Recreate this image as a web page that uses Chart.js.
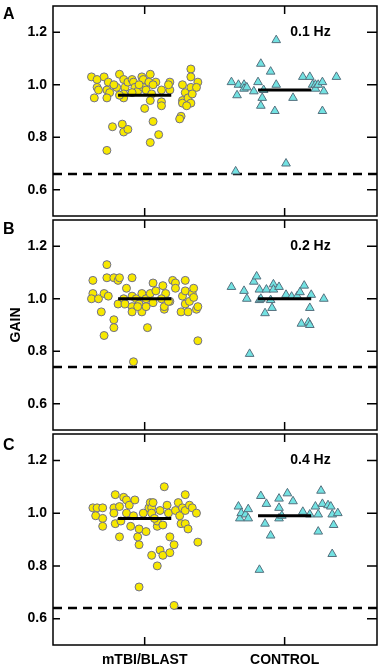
<!DOCTYPE html>
<html>
<head>
<meta charset="utf-8">
<script src="https://cdn.jsdelivr.net/npm/chart.js@4.4.1/dist/chart.umd.min.js"></script>
<style>
  body { margin: 0; background: #fff; }
  canvas { position: absolute; left: 0; }
</style>
</head>
<body>
<canvas id="chartA" width="383" height="222" style="top:0px"></canvas>
<canvas id="chartB" width="383" height="222" style="top:214px"></canvas>
<canvas id="chartC" width="383" height="240" style="top:428px"></canvas>
<script>
// Datos
const groups = ['mTBI/BLAST', 'CONTROL']
const yTicks = [0.6, 0.8, 1.0, 1.2]
const panelLetters = ['A', 'B', 'C']
const freqLabels = ['0.1 Hz', '0.2 Hz', '0.4 Hz']
const thresholds = [0.66, 0.74, 0.64]
const meanBlast = [0.96, 1.00, 0.98]
const meanControl = [0.98, 1.00, 0.99]

// 0.1 Hz
const blastGainA = [1.03,1.02,1.03,1.01,0.99,0.98,0.95,0.98,0.97,0.95,0.99,1.04,1.02,0.99,0.965,0.95,1.01,1.02,1.01,0.99,0.975,1.03,1.02,0.99,0.98,1.04,1.01,0.965,0.94,1.01,0.98,0.935,0.92,0.91,0.86,0.81,0.78,0.84,0.85,0.82,0.83,0.75,1.01,0.98,1.00,0.94,0.88,0.87,0.93,0.97,0.95,1.06,1.03,0.99,0.965,0.93,0.92,1.01,0.99,0.96,1.00,1.00,0.97,1.00,1.00]
const blastJitterA = [-0.38,-0.34,-0.29,-0.26,-0.34,-0.33,-0.36,-0.27,-0.25,-0.27,-0.20,-0.18,-0.15,-0.14,-0.15,-0.15,-0.12,-0.09,-0.08,-0.07,-0.05,-0.02,-0.01,-0.01,0.01,0.04,0.03,0.05,0.04,0.08,0.12,0.12,0.12,0.00,0.06,0.10,0.04,-0.23,-0.16,-0.15,-0.12,-0.27,0.18,0.18,0.27,0.27,0.26,0.25,0.27,0.29,0.31,0.33,0.33,0.33,0.34,0.33,0.30,0.38,0.37,-0.18,-0.22,-0.04,-0.09,0.06,0.17]
const controlGainA = [1.01,1.00,0.96,0.67,1.00,0.985,0.99,0.975,1.01,1.08,0.95,0.92,0.98,1.05,1.00,0.90,1.17,0.70,0.95,1.03,1.03,1.00,1.00,0.985,1.00,1.01,0.975,0.90,1.03]
const controlJitterA = [-0.38,-0.33,-0.34,-0.35,-0.29,-0.29,-0.27,-0.22,-0.19,-0.17,-0.16,-0.17,-0.15,-0.10,-0.06,-0.07,-0.06,0.01,0.06,0.13,0.18,0.20,0.22,0.22,0.24,0.27,0.28,0.27,0.37]

// 0.2 Hz
const blastGainB = [1.07,1.02,1.00,1.00,1.02,0.95,0.86,1.13,1.08,1.01,1.08,1.07,1.08,0.92,0.89,0.98,1.00,1.04,0.98,1.08,1.01,0.97,0.95,0.76,1.00,0.98,1.02,0.95,0.97,0.89,1.00,1.02,1.06,0.985,1.03,1.05,0.96,0.97,1.02,0.99,1.07,1.06,1.04,0.95,1.01,1.07,1.03,0.98,0.95,0.99,1.02,1.04,1.005,0.96,0.97,0.84,1.00,0.99,0.97]
const blastJitterB = [-0.37,-0.37,-0.38,-0.33,-0.29,-0.31,-0.29,-0.27,-0.27,-0.26,-0.22,-0.19,-0.18,-0.22,-0.22,-0.19,-0.15,-0.13,-0.14,-0.09,-0.09,-0.09,-0.09,-0.08,-0.06,-0.04,-0.02,-0.02,0.01,0.02,0.01,0.04,0.06,0.06,0.08,0.13,0.14,0.14,0.15,0.18,0.20,0.22,0.22,0.26,0.27,0.29,0.29,0.29,0.31,0.32,0.34,0.35,0.35,0.37,0.38,0.38,0.12,0.17,-0.05]
const controlGainB = [1.045,1.03,1.00,0.79,1.065,1.085,1.035,0.995,1.00,0.945,1.035,0.995,0.965,1.055,1.035,1.045,1.015,1.008,1.01,1.025,1.05,0.905,0.91,0.90,0.965,1.015,1.00]
const controlJitterB = [-0.38,-0.29,-0.27,-0.25,-0.22,-0.20,-0.18,-0.18,-0.17,-0.14,-0.13,-0.10,-0.09,-0.08,-0.08,-0.04,0.01,0.05,0.09,0.11,0.14,0.12,0.17,0.18,0.18,0.19,0.28]

// 0.4 Hz
const blastGainC = [1.02,1.02,0.99,0.98,0.95,1.02,1.07,1.02,1.00,0.96,0.91,1.025,0.97,1.06,1.05,1.00,1.03,0.95,1.05,0.99,0.91,0.94,0.88,0.72,0.93,1.02,1.04,1.02,1.04,1.00,0.84,0.95,0.97,0.86,0.84,0.80,1.01,0.955,1.10,1.03,1.00,0.91,0.85,0.88,0.65,1.01,1.04,0.99,0.96,1.02,1.07,0.96,0.94,1.01,1.03,1.02,1.00,0.89,1.00,0.98]
const blastJitterC = [-0.37,-0.34,-0.35,-0.30,-0.30,-0.30,-0.21,-0.22,-0.22,-0.21,-0.18,-0.18,-0.17,-0.15,-0.13,-0.13,-0.11,-0.10,-0.07,-0.08,-0.05,-0.04,-0.04,-0.04,0.01,0.03,0.04,0.05,0.06,0.05,0.05,0.09,0.09,0.11,0.13,0.09,0.11,0.13,0.14,0.16,0.17,0.18,0.18,0.21,0.21,0.22,0.24,0.25,0.26,0.27,0.29,0.29,0.31,0.29,0.32,0.34,0.37,0.38,-0.01,0.07]
const controlGainC = [1.025,0.98,1.00,0.995,1.015,0.98,0.785,1.065,0.96,1.035,0.915,1.055,1.02,0.98,0.99,1.075,1.045,1.005,0.995,1.025,0.995,0.93,1.085,1.035,1.03,1.025,0.995,0.955,1.00,0.845]
const controlJitterC = [-0.33,-0.32,-0.31,-0.28,-0.26,-0.26,-0.18,-0.17,-0.14,-0.13,-0.10,-0.04,-0.04,-0.04,-0.02,0.02,0.06,0.13,0.18,0.22,0.24,0.24,0.26,0.27,0.31,0.33,0.34,0.35,0.38,0.34]

const blastGain = [blastGainA, blastGainB, blastGainC]
const blastJitter = [blastJitterA, blastJitterB, blastJitterC]
const controlGain = [controlGainA, controlGainB, controlGainC]
const controlJitter = [controlJitterA, controlJitterB, controlJitterC]

Chart.defaults.font.family = "'Liberation Sans', Arial, sans-serif"
Chart.defaults.font.weight = 'bold'
Chart.defaults.color = '#111'

const X_MIN = 0.345
const X_MAX = 2.66
const MEAN_HALF = 0.19

// marco, marcas internas y textos del panel
const framePlugin = {
  id: 'frame',
  afterDraw(chart, args, opts) {
    const c = chart.ctx
    const a = chart.chartArea
    const xs = chart.scales.x
    const ys = chart.scales.y
    c.save()
    c.strokeStyle = '#000'
    c.lineWidth = 1.5
    c.strokeRect(a.left, a.top, a.right - a.left, a.bottom - a.top)
    c.beginPath()
    yTicks.forEach(v => {
      const py = ys.getPixelForValue(v)
      c.moveTo(a.left, py); c.lineTo(a.left + 7, py)
      c.moveTo(a.right, py); c.lineTo(a.right - 10, py)
    })
    ;[1, 2].forEach(v => {
      const px = xs.getPixelForValue(v)
      c.moveTo(px, a.top); c.lineTo(px, a.top + 8)
      c.moveTo(px, a.bottom); c.lineTo(px, a.bottom - 8)
    })
    c.stroke()
    c.fillStyle = '#000'
    c.font = "bold 16px 'Liberation Sans', Arial, sans-serif"
    c.textBaseline = 'alphabetic'
    c.textAlign = 'left'
    c.fillText(opts.letter, 3, a.top + opts.letterDy)
    c.font = "bold 14px 'Liberation Sans', Arial, sans-serif"
    c.textBaseline = 'middle'
    c.fillText(opts.freq, xs.getPixelForValue(2.04), ys.getPixelForValue(1.2))
    c.restore()
  }
}

function noPad(axis) {
  axis.paddingTop = 0
  axis.paddingBottom = 0
  axis.paddingLeft = 0
  axis.paddingRight = 0
}

function makePanel(id, i, opts) {
  const blastPts = blastGain[i].map((g, k) => ({ x: 1 + blastJitter[i][k], y: g }))
  const controlPts = controlGain[i].map((g, k) => ({ x: 2 + controlJitter[i][k], y: g }))
  const ctx = document.getElementById(id).getContext('2d')
  return new Chart(ctx, {
    type: 'scatter',
    data: {
      datasets: [
        {
          label: 'media mTBI', showLine: true, order: 0,
          data: [{ x: 1 - MEAN_HALF, y: meanBlast[i] }, { x: 1 + MEAN_HALF, y: meanBlast[i] }],
          borderColor: '#000', borderWidth: 3, pointRadius: 0
        },
        {
          label: 'media control', showLine: true, order: 0,
          data: [{ x: 2 - MEAN_HALF, y: meanControl[i] }, { x: 2 + MEAN_HALF, y: meanControl[i] }],
          borderColor: '#000', borderWidth: 3, pointRadius: 0
        },
        {
          label: groups[0], order: 1, data: blastPts,
          pointStyle: 'circle', pointRadius: 4,
          backgroundColor: '#f7e800', borderColor: '#6e6e8c', borderWidth: 1
        },
        {
          label: groups[1], order: 1, data: controlPts,
          pointStyle: 'triangle', pointRadius: 5,
          backgroundColor: '#72e2e2', borderColor: '#55707e', borderWidth: 1
        },
        {
          label: 'umbral', showLine: true, order: 2,
          data: [{ x: X_MIN, y: thresholds[i] }, { x: X_MAX, y: thresholds[i] }],
          borderColor: '#000', borderWidth: 2.5, borderDash: [9, 6], pointRadius: 0
        }
      ]
    },
    options: {
      responsive: false,
      animation: false,
      devicePixelRatio: 1,
      events: [],
      layout: { padding: { left: 0, right: 4.5, top: opts.padTop, bottom: opts.padBottom } },
      plugins: {
        legend: { display: false },
        tooltip: { enabled: false },
        frame: { letter: panelLetters[i], freq: freqLabels[i], letterDy: opts.letterDy }
      },
      scales: {
        x: {
          type: 'linear', min: X_MIN, max: X_MAX,
          display: opts.showX,
          grid: { display: false, drawTicks: false },
          border: { display: false },
          afterBuildTicks: axis => { axis.ticks = [{ value: 1 }, { value: 2 }] },
          afterFit: axis => { axis.height = opts.showX ? 23 : 0; noPad(axis) },
          ticks: {
            padding: 7, autoSkip: false, maxRotation: 0,
            font: { size: 14, weight: 'bold' }, color: '#000',
            callback: (v, idx) => groups[idx]
          }
        },
        y: {
          min: 0.5, max: 1.3,
          grid: { display: false, drawTicks: false },
          border: { display: false },
          afterBuildTicks: axis => { axis.ticks = yTicks.map(v => ({ value: v })) },
          afterFit: axis => { axis.width = 53; noPad(axis) },
          ticks: {
            padding: 6,
            font: { size: 14, weight: 'bold' }, color: '#000',
            callback: v => v.toFixed(1)
          },
          title: {
            display: opts.showTitle, text: 'GAIN',
            font: { size: 14, weight: 'bold' }, color: '#000',
            padding: { top: 7.4, bottom: 0 }
          }
        }
      }
    },
    plugins: [framePlugin]
  })
}

//Graficas
const chartA = makePanel('chartA', 0, { padTop: 4, padBottom: 4.7, showX: false, showTitle: false, letterDy: 12.5 })
const chartB = makePanel('chartB', 1, { padTop: 4, padBottom: 4.7, showX: false, showTitle: true, letterDy: 13.5 })
const chartC = makePanel('chartC', 2, { padTop: 3.7, padBottom: 0, showX: true, showTitle: false, letterDy: 16.3 })
</script>
</body>
</html>
